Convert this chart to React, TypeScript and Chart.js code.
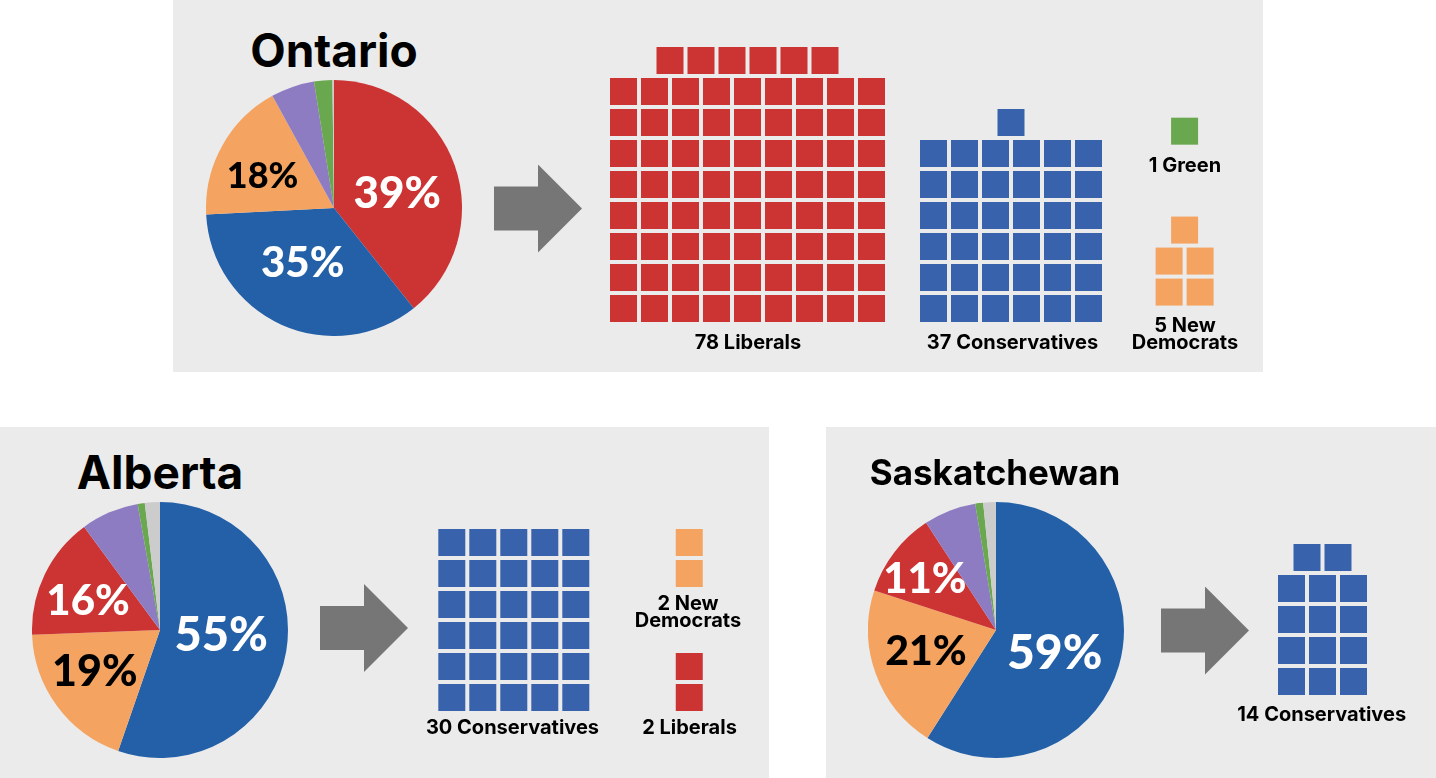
import React, { useEffect, useRef } from "react";
import { Chart, registerables } from "chart.js";

Chart.register(...registerables);

// ---------------- DATA ----------------
const partyNames = ["Liberal", "Conservative", "New Democratic", "People's", "Green", "Other"];
const pieColors = ["#cc3333", "#2360a8", "#f4a460", "#8e7cc3", "#6aa84f", "#cccccc"];
const waffleColors = ["#cc3333", "#3862ab", "#f4a460", "#8e7cc3", "#6aa84f", "#cccccc"];

// popular vote share (%), in clockwise slice order
const ontarioParties = ["Liberal", "Conservative", "New Democratic", "People's", "Green", "Other"];
const ontarioVoteShare = [39.3, 34.9, 17.8, 5.5, 2.3, 0.2];
const albertaParties = ["Conservative", "New Democratic", "Liberal", "People's", "Green", "Other"];
const albertaVoteShare = [55.3, 19.1, 15.5, 7.3, 0.9, 1.9];
const saskParties = ["Conservative", "New Democratic", "Liberal", "People's", "Green", "Other"];
const saskVoteShare = [59.0, 21.0, 10.8, 6.6, 1.0, 1.6];

// seats won
const ontarioSeatParties = ["Liberal", "Conservative", "Green", "New Democratic"];
const ontarioSeats = [78, 37, 1, 5];
const ontarioSeatCaptions = [["78 Liberals"], ["37 Conservatives"], ["1 Green"], ["5 New", "Democrats"]];
const albertaSeatParties = ["Conservative", "New Democratic", "Liberal"];
const albertaSeats = [30, 2, 2];
const albertaSeatCaptions = [["30 Conservatives"], ["2 New", "Democrats"], ["2 Liberals"]];
const saskSeatParties = ["Conservative"];
const saskSeats = [14];
const saskSeatCaptions = [["14 Conservatives"]];

// ---------------- LAYOUT / STYLE ----------------
const CELL = 31;
const SQUARE = 27;
const PANEL_BG = "#ebebeb";
const ARROW_COLOR = "#767676";
const TITLE_FONT = 'Inter, "Liberation Sans", sans-serif';
const CAPTION_FONT = 'Inter, "Liberation Sans", sans-serif';
const PCT_FONT = 'Lato, "Open Sans", sans-serif';

type Placement = { frac: number; dAngle: number; size: number; color: string } | null;

const colorOf = (name: string, palette: string[]) => palette[partyNames.indexOf(name)];

const pctLabelPlugin = (placements: Placement[]) => ({
  id: "pctLabels",
  afterDatasetsDraw(chart: any) {
    const meta = chart.getDatasetMeta(0);
    const values = chart.data.datasets[0].data as number[];
    const ctx = chart.ctx;
    ctx.save();
    meta.data.forEach((arc: any, i: number) => {
      const p = placements[i];
      if (!p) return;
      const { x, y, startAngle, endAngle, outerRadius } = arc.getProps(
        ["x", "y", "startAngle", "endAngle", "outerRadius"],
        true
      );
      const a = (startAngle + endAngle) / 2 + (p.dAngle * Math.PI) / 180;
      const r = outerRadius * p.frac;
      const px = x + Math.cos(a) * r;
      const py = y + Math.sin(a) * r;
      ctx.font = `900 ${p.size}px ${PCT_FONT}`;
      ctx.fillStyle = p.color;
      ctx.textAlign = "center";
      ctx.textBaseline = "alphabetic";
      ctx.fillText(`${Math.round(values[i])}%`, px, py + p.size * 0.36);
    });
    ctx.restore();
  },
});

function wafflePoints(count: number, cols: number, ax: number, ay: number) {
  const pts: { x: number; y: number }[] = [];
  const full = Math.floor(count / cols);
  const rem = count % cols;
  for (let j = 0; j < full; j++) for (let i = 0; i < cols; i++) pts.push({ x: ax + i, y: ay + j });
  for (let k = 0; k < rem; k++) pts.push({ x: ax + (cols - rem) / 2 + k, y: ay + full });
  return pts;
}

type PanelSpec = {
  rect: [number, number, number, number];
  title: { text: string; cx: number; baseline: number; size: number };
  pie: { cx: number; cy: number; size: number; parties: string[]; values: number[]; placements: Placement[] };
  arrow: { left: number; cy: number };
  waffle: {
    rect: [number, number, number, number];
    origin: [number, number];
    parties: string[];
    seats: number[];
    cols: number[];
    anchors: [number, number][];
    captions: string[][];
    captionPos: [number, number][];
  };
};

const panels: PanelSpec[] = [
  {
    rect: [173, 0, 1090, 372],
    title: { text: "Ontario", cx: 334, baseline: 67, size: 46 },
    pie: {
      cx: 334, cy: 208, size: 256, parties: ontarioParties, values: ontarioVoteShare,
      placements: [
        { frac: 0.51, dAngle: 5, size: 44, color: "#ffffff" },
        { frac: 0.49, dAngle: 5.7, size: 42, color: "#ffffff" },
        { frac: 0.615, dAngle: -4.4, size: 36, color: "#000000" },
        null, null, null,
      ],
    },
    arrow: { left: 494, cy: 208.5 },
    waffle: {
      rect: [595, 35, 640, 290],
      origin: [623.5, 308.5],
      parties: ontarioSeatParties,
      seats: ontarioSeats,
      cols: [9, 6, 1, 2],
      anchors: [[0, 0], [10, 0], [18.1, 5.72], [17.6, 0.53]],
      captions: ontarioSeatCaptions,
      captionPos: [[748, 349], [1012.5, 349], [1185, 172.5], [1185, 332.5]],
    },
  },
  {
    rect: [0, 427, 769, 351],
    title: { text: "Alberta", cx: 160, baseline: 489, size: 46 },
    pie: {
      cx: 160, cy: 630, size: 256, parties: albertaParties, values: albertaVoteShare,
      placements: [
        { frac: 0.48, dAngle: -5.3, size: 47, color: "#ffffff" },
        { frac: 0.6, dAngle: 4.6, size: 43, color: "#000000" },
        { frac: 0.61, dAngle: -2.8, size: 42, color: "#ffffff" },
        null, null, null,
      ],
    },
    arrow: { left: 320, cy: 628 },
    waffle: {
      rect: [425, 515, 300, 200],
      origin: [451.8, 697.5],
      parties: albertaSeatParties,
      seats: albertaSeats,
      cols: [5, 1, 1],
      anchors: [[0, 0], [7.66, 4], [7.66, 0]],
      captions: albertaSeatCaptions,
      captionPos: [[512.5, 734], [688, 610.5], [689.5, 734]],
    },
  },
  {
    rect: [826, 427, 610, 351],
    title: { text: "Saskatchewan", cx: 995, baseline: 485, size: 35 },
    pie: {
      cx: 996, cy: 630, size: 256, parties: saskParties, values: saskVoteShare,
      placements: [
        { frac: 0.49, dAngle: 4.4, size: 48, color: "#ffffff" },
        { frac: 0.57, dAngle: 3.4, size: 41, color: "#000000" },
        { frac: 0.69, dAngle: -1.1, size: 42, color: "#ffffff" },
        null, null, null,
      ],
    },
    arrow: { left: 1161, cy: 630.5 },
    waffle: {
      rect: [1265, 530, 120, 170],
      origin: [1291.5, 681.5],
      parties: saskSeatParties,
      seats: saskSeats,
      cols: [3],
      anchors: [[0, 0]],
      captions: saskSeatCaptions,
      captionPos: [[1321.7, 721.5]],
    },
  },
];

// ---------------- COMPONENTS ----------------
function ChartCanvas({ left, top, width, height, makeConfig }: any) {
  const ref = useRef<HTMLCanvasElement>(null);
  useEffect(() => {
    const chart = new Chart(ref.current as HTMLCanvasElement, makeConfig());
    return () => chart.destroy();
  }, []);
  return (
    <canvas
      ref={ref}
      width={width}
      height={height}
      style={{ position: "absolute", left, top, width, height }}
    />
  );
}

function Text({ text, cx, baseline, size, weight, font }: any) {
  // Inter: ascender 0.969, descender 0.242 -> baseline at 0.8635em with line-height 1
  const top = baseline - size * 0.8635;
  return (
    <div
      style={{
        position: "absolute",
        left: cx - 300,
        width: 600,
        top,
        textAlign: "center",
        fontFamily: font,
        fontWeight: weight,
        fontSize: size,
        lineHeight: `${size}px`,
        color: "#000",
        whiteSpace: "nowrap",
      }}
    >
      {text}
    </div>
  );
}

function Arrow({ left, cy }: { left: number; cy: number }) {
  return (
    <div
      style={{
        position: "absolute",
        left,
        top: cy - 44,
        width: 88,
        height: 88,
        background: ARROW_COLOR,
        clipPath: "polygon(0 22px, 44px 22px, 44px 0, 88px 44px, 44px 88px, 44px 66px, 0 66px)",
      }}
    />
  );
}

function Panel({ spec }: { spec: PanelSpec }) {
  const [px, py, pw, ph] = spec.rect;
  const pie = spec.pie;
  const w = spec.waffle;
  const [wl, wt, ww, wh] = w.rect;
  const [ox, oy] = w.origin;

  const pieConfig = () => ({
    type: "pie",
    data: {
      labels: pie.parties,
      datasets: [
        {
          data: pie.values,
          backgroundColor: pie.parties.map((p) => colorOf(p, pieColors)),
          borderWidth: 0,
        },
      ],
    },
    options: {
      responsive: false,
      animation: false,
      events: [],
      layout: { padding: 0 },
      plugins: { legend: { display: false }, tooltip: { enabled: false } },
    },
    plugins: [pctLabelPlugin(pie.placements)],
  });

  const waffleConfig = () => ({
    type: "scatter",
    data: {
      datasets: w.parties.map((p, i) => ({
        label: p,
        data: wafflePoints(w.seats[i], w.cols[i], w.anchors[i][0], w.anchors[i][1]),
        pointStyle: "rect",
        pointRadius: SQUARE / 2 / Math.SQRT1_2,
        pointBackgroundColor: colorOf(p, waffleColors),
        backgroundColor: colorOf(p, waffleColors),
        pointBorderWidth: 0,
        borderWidth: 0,
        showLine: false,
        clip: false,
      })),
    },
    options: {
      responsive: false,
      animation: false,
      events: [],
      layout: { padding: 0, autoPadding: false },
      plugins: { legend: { display: false }, tooltip: { enabled: false } },
      scales: {
        x: { type: "linear", display: false, min: (wl - ox) / CELL, max: (wl + ww - ox) / CELL },
        y: { type: "linear", display: false, min: (oy - (wt + wh)) / CELL, max: (oy - wt) / CELL },
      },
    },
  });

  return (
    <>
      <div style={{ position: "absolute", left: px, top: py, width: pw, height: ph, background: PANEL_BG }} />
      <Text
        text={spec.title.text}
        cx={spec.title.cx}
        baseline={spec.title.baseline}
        size={spec.title.size}
        weight={700}
        font={TITLE_FONT}
      />
      <ChartCanvas
        left={pie.cx - pie.size / 2}
        top={pie.cy - pie.size / 2}
        width={pie.size}
        height={pie.size}
        makeConfig={pieConfig}
      />
      <Arrow left={spec.arrow.left} cy={spec.arrow.cy} />
      <ChartCanvas left={wl} top={wt} width={ww} height={wh} makeConfig={waffleConfig} />
      {w.captions.map((lines, i) =>
        lines.map((line, k) => (
          <Text
            key={`${i}-${k}`}
            text={line}
            cx={w.captionPos[i][0]}
            baseline={w.captionPos[i][1] + k * 16.5}
            size={20}
            weight={700}
            font={CAPTION_FONT}
          />
        ))
      )}
    </>
  );
}

export default function App() {
  return (
    <div
      style={{
        position: "absolute",
        left: 0,
        top: 0,
        width: 1436,
        height: 778,
        background: "#ffffff",
        overflow: "hidden",
      }}
    >
      {panels.map((p) => (
        <Panel key={p.title.text} spec={p} />
      ))}
    </div>
  );
}
